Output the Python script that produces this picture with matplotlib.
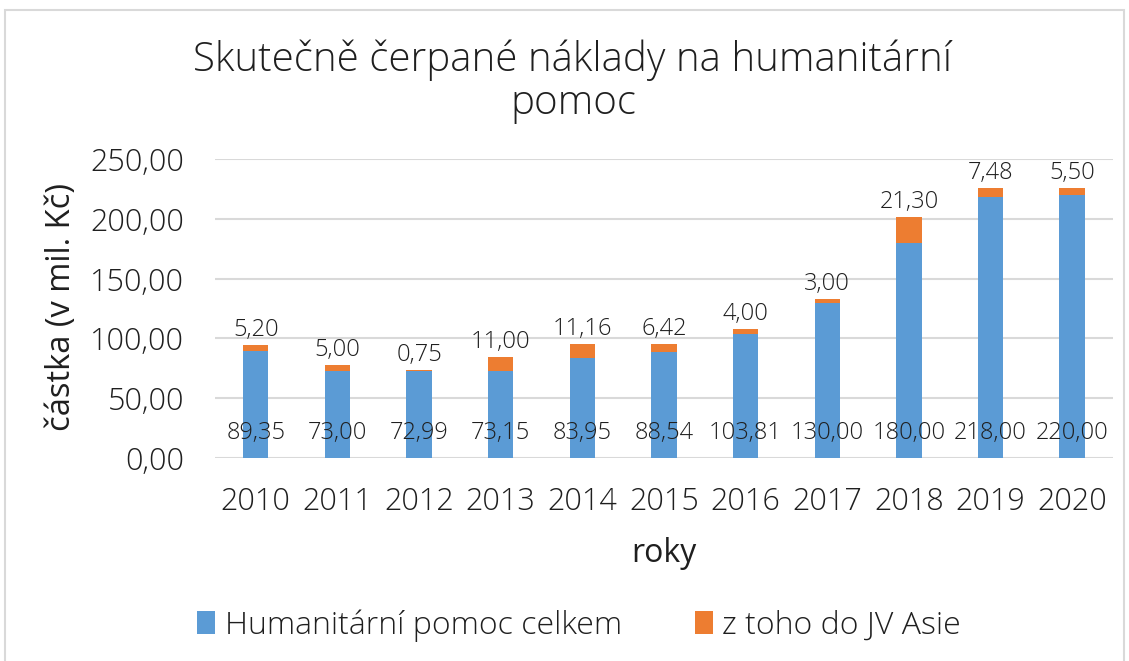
import matplotlib.pyplot as plt
from matplotlib.patches import Rectangle

years = ["2010", "2011", "2012", "2013", "2014", "2015",
         "2016", "2017", "2018", "2019", "2020"]
celkem = [89.35, 73.00, 72.99, 73.15, 83.95, 88.54,
          103.81, 130.00, 180.00, 218.00, 220.00]
jv_asie = [5.20, 5.00, 0.75, 11.00, 11.16, 6.42,
           4.00, 3.00, 21.30, 7.48, 5.50]

BLUE = "#5B9BD5"
ORANGE = "#ED7D31"
GRID = "#D9D9D9"
TXT = "#1F1F1F"

plt.rcParams["font.family"] = ["Open Sans", "DejaVu Sans"]
plt.rcParams["font.weight"] = "light"


def cz(v):
    return f"{v:.2f}".replace(".", ",")


fig = plt.figure(figsize=(11.29, 6.61), dpi=100)
ax = fig.add_axes([0.1904, 0.3071, 0.7954, 0.4524])

# chart frame
fig.patches.append(Rectangle((0.004, -0.01), 0.992, 0.995, transform=fig.transFigure,
                             fill=False, edgecolor=GRID, linewidth=1.5))

x = list(range(len(years)))
width = 0.31
b1 = ax.bar(x, celkem, width, color=BLUE, label="Humanitární pomoc celkem", zorder=3)
b2 = ax.bar(x, jv_asie, width, bottom=celkem, color=ORANGE,
            label="z toho do JV Asie", zorder=3)

for i in x:
    ax.annotate(cz(celkem[i]), (i, 0), xytext=(0, 25), textcoords="offset pixels",
                ha="center", va="center", fontsize=17, color=TXT, zorder=4)
    ax.annotate(cz(jv_asie[i]), (i, celkem[i] + jv_asie[i]), xytext=(0, 15),
                textcoords="offset pixels", ha="center", va="center",
                fontsize=17, color=TXT, zorder=4)

ax.set_ylim(0, 250)
ax.set_xlim(-0.5, len(years) - 0.5)
ax.set_yticks([0, 50, 100, 150, 200, 250])
ax.set_yticklabels([cz(v) for v in [0, 50, 100, 150, 200, 250]])
ax.set_xticks(x)
ax.set_xticklabels(years)
ax.tick_params(length=0, labelsize=22, colors=TXT)
ax.tick_params(axis="y", pad=22)
ax.tick_params(axis="x", pad=20)
ax.yaxis.grid(True, color=GRID, linewidth=1.5, zorder=0)
for s in ax.spines.values():
    s.set_visible(False)

ax.set_xlabel("roky", fontsize=23, color=TXT, labelpad=14)
ax.set_ylabel("částka (v mil. Kč)", fontsize=23.5, color=TXT)
ax.yaxis.set_label_coords(-0.1526, 0.505)

fig.text(0.5075, 0.876, "Skutečně čerpané náklady na humanitární\npomoc",
         ha="center", va="center", fontsize=29, color=TXT, linespacing=1.08)

fig.legend(handles=[b1, b2], loc="center", bbox_to_anchor=(0.513, 0.054), ncol=2,
           frameon=False, fontsize=23, handlelength=0.55, handleheight=0.7,
           handletextpad=0.3, columnspacing=2.3, labelcolor=TXT)

fig.savefig("out.png", dpi=100)
